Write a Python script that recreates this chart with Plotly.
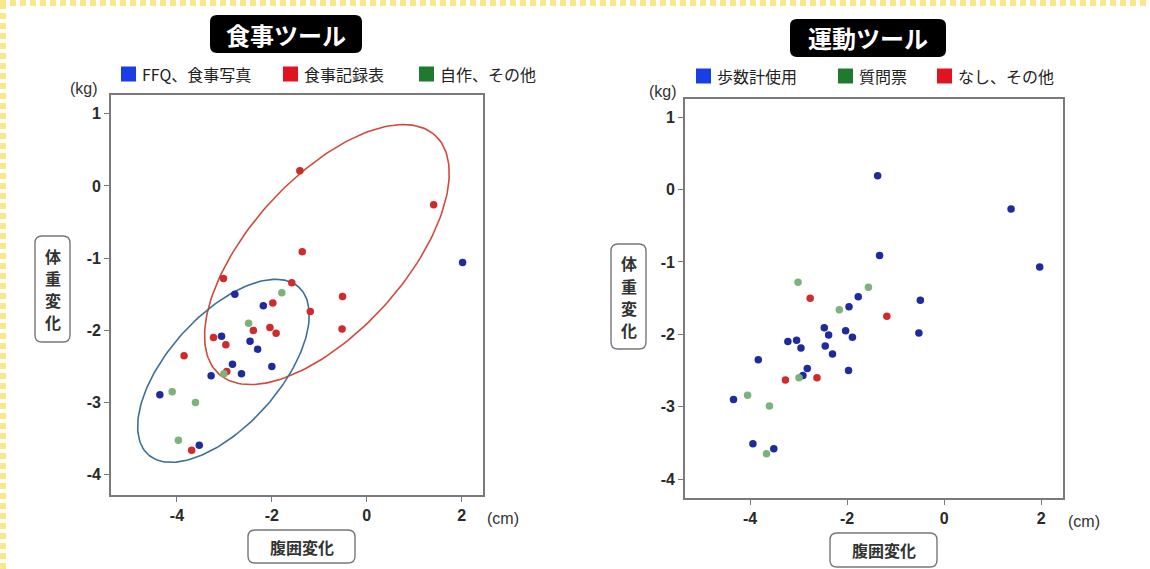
import numpy as np
import plotly.graph_objects as go

W, H = 1150, 569
FONT = "Noto Sans CJK JP"

# ---------------- data ----------------
# Left chart: 食事ツール
food_ffq_x = [2.02, -2.78, -2.18, -3.06, -2.46, -2.30, -2.83, -2.64, -3.28, -2.00, -4.36, -3.53]
food_ffq_y = [-1.06, -1.50, -1.66, -2.08, -2.15, -2.26, -2.47, -2.60, -2.63, -2.50, -2.89, -3.59]
food_rec_x = [-1.41, 1.41, -1.36, -3.02, -1.58, -0.51, -1.19, -0.52, -1.98, -2.39, -2.04, -1.91, -3.23, -2.97, -3.85, -2.95, -3.69]
food_rec_y = [0.21, -0.26, -0.91, -1.28, -1.34, -1.53, -1.74, -1.98, -1.62, -2.00, -1.96, -2.04, -2.10, -2.20, -2.35, -2.57, -3.66]
food_own_x = [-1.79, -2.49, -4.10, -3.61, -3.97, -3.01]
food_own_y = [-1.48, -1.90, -2.85, -3.00, -3.52, -2.60]

# Right chart: 運動ツール
ex_ped_x = [-1.37, 1.38, -1.33, 1.97, -0.49, -0.52, -1.77, -1.96, -2.47, -2.38, -2.03, -1.89, -2.45, -2.30, -3.22, -3.04, -2.95, -3.83, -2.82, -2.91, -1.97, -4.34, -3.94, -3.51]
ex_ped_y = [0.19, -0.27, -0.91, -1.07, -1.53, -1.98, -1.48, -1.62, -1.91, -2.01, -1.95, -2.04, -2.16, -2.27, -2.10, -2.08, -2.19, -2.35, -2.47, -2.57, -2.50, -2.90, -3.51, -3.58]
ex_q_x = [-3.01, -1.56, -2.16, -2.99, -4.05, -3.60, -3.66]
ex_q_y = [-1.28, -1.35, -1.66, -2.60, -2.84, -2.99, -3.65]
ex_none_x = [-2.76, -1.18, -3.27, -2.62]
ex_none_y = [-1.50, -1.75, -2.63, -2.60]

# group ellipses (center, major-axis vector, minor-axis vector) in data units
ell_red = dict(c=(-0.84, -0.95), u=(2.28, 1.652), v=(1.203, -0.716))
ell_blue = dict(c=(-3.02, -2.56), u=(1.587, 1.159), v=(0.867, -0.513))

x_ticks = [-4, -2, 0, 2]
x_ticktext = ["-4", "-2", "0", "2"]
y_ticks = [-4, -3, -2, -1, 0, 1]
y_ticktext = ["-4", "-3", "-2", "-1", "0", "1"]

titles = ["食事ツール", "運動ツール"]
legend_left = ["FFQ、食事写真", "食事記録表", "自作、その他"]
legend_right = ["歩数計使用", "質問票", "なし、その他"]
xlabel = "腹囲変化"
ylabel = "体重変化"

# ---------------- styles ----------------
C_BLUE = "#1f2a9e"
C_RED = "#d02a2a"
C_GREEN = "#7cb37c"
L_BLUE = "#1a3ee6"
L_RED = "#e0141e"
L_GREEN = "#1e7a2e"


def px(x):
    return x / W


def py(y):
    return 1 - y / H


def rrect(x0, y0, x1, y1, r):
    # rounded rectangle in pixel coords -> paper path
    rx, ry = r / W, r / H
    X0, X1 = px(x0), px(x1)
    Y0, Y1 = py(y1), py(y0)  # bottom, top
    return (f"M {X0+rx},{Y0} L {X1-rx},{Y0} Q {X1},{Y0} {X1},{Y0+ry} "
            f"L {X1},{Y1-ry} Q {X1},{Y1} {X1-rx},{Y1} L {X0+rx},{Y1} "
            f"Q {X0},{Y1} {X0},{Y1-ry} L {X0},{Y0+ry} Q {X0},{Y0} {X0+rx},{Y0} Z")


fig = go.Figure()


def pts(x, y, color, xa, ya):
    fig.add_trace(go.Scatter(x=x, y=y, mode="markers", xaxis=xa, yaxis=ya,
                             marker=dict(size=7.5, color=color), showlegend=False,
                             hoverinfo="skip"))


def ellipse(e, color):
    t = np.linspace(0, 2 * np.pi, 181)
    cx, cy = e["c"]
    ux, uy = e["u"]
    vx, vy = e["v"]
    ex = cx + ux * np.cos(t) + vx * np.sin(t)
    ey = cy + uy * np.cos(t) + vy * np.sin(t)
    fig.add_trace(go.Scatter(x=ex, y=ey, mode="lines", xaxis="x", yaxis="y",
                             line=dict(color=color, width=1.6), showlegend=False,
                             hoverinfo="skip"))


ellipse(ell_red, "#cf4a3c")
ellipse(ell_blue, "#3f6f98")
pts(food_ffq_x, food_ffq_y, C_BLUE, "x", "y")
pts(food_rec_x, food_rec_y, C_RED, "x", "y")
pts(food_own_x, food_own_y, C_GREEN, "x", "y")

pts(ex_ped_x, ex_ped_y, C_BLUE, "x2", "y2")
pts(ex_q_x, ex_q_y, C_GREEN, "x2", "y2")
pts(ex_none_x, ex_none_y, C_RED, "x2", "y2")

ax_common = dict(showgrid=False, zeroline=False, showline=True, mirror=True,
                 linecolor="#7a7a7a", linewidth=1.6, ticks="outside", ticklen=5,
                 tickcolor="#7a7a7a", tickwidth=1.3,
                 tickfont=dict(family="Liberation Sans", size=16, color="#2a2a2a",
                               weight="bold"))

fig.update_layout(
    width=W, height=H, margin=dict(l=0, r=0, t=0, b=0),
    paper_bgcolor="white", plot_bgcolor="white", showlegend=False,
    xaxis=dict(domain=[px(111), px(483)], range=[-5.39, 2.45], tickvals=x_ticks,
               ticktext=x_ticktext, anchor="y", **ax_common),
    yaxis=dict(domain=[py(495), py(95)], range=[-4.28, 1.26], tickvals=y_ticks,
               ticktext=y_ticktext, anchor="x", **ax_common),
    xaxis2=dict(domain=[px(685), px(1063)], range=[-5.34, 2.45], tickvals=x_ticks,
                ticktext=x_ticktext, anchor="y2", **ax_common),
    yaxis2=dict(domain=[py(498), py(99)], range=[-4.26, 1.25], tickvals=y_ticks,
                ticktext=y_ticktext, anchor="x2", **ax_common),
)

shapes = []
ann = []


def text(x, y, t, size=16, color="#222222", family=FONT, xanchor="center"):
    ann.append(dict(x=px(x), y=py(y), xref="paper", yref="paper", text=t,
                    showarrow=False, xanchor=xanchor, yanchor="middle",
                    font=dict(family=family, size=size, color=color)))


# yellow dashed page frame
shapes.append(dict(type="line", xref="paper", yref="paper", x0=0, x1=1, y0=py(3), y1=py(3),
                   line=dict(color="#f8e88a", width=6, dash="6px,4px")))
shapes.append(dict(type="line", xref="paper", yref="paper", x0=px(3), x1=px(3), y0=0, y1=1,
                   line=dict(color="#f8e88a", width=6, dash="6px,4px")))

# titles
for (x0, y0, x1, y1), txt in zip([(210, 15, 362, 53), (790, 19, 946, 57)], titles):
    shapes.append(dict(type="path", xref="paper", yref="paper", path=rrect(x0, y0, x1, y1, 7),
                       fillcolor="black", line=dict(width=0)))
    text((x0 + x1) / 2, (y0 + y1) / 2, f"<b>{txt}</b>", size=24, color="white")


# legends
def legend(items, sq_x, colors, ycen):
    for lab, sx, col in zip(items, sq_x, colors):
        shapes.append(dict(type="rect", xref="paper", yref="paper",
                           x0=px(sx), x1=px(sx + 15), y0=py(ycen + 7.5), y1=py(ycen - 7.5),
                           fillcolor=col, line=dict(width=0)))
        text(sx + 19, ycen, lab, size=16, xanchor="left")


legend(legend_left, [121, 283, 419], [L_BLUE, L_RED, L_GREEN], 74)
legend(legend_right, [696, 838, 937], [L_BLUE, L_GREEN, L_RED], 76)

# units
for (x, y, t) in [(84, 88, "(kg)"), (663, 91, "(kg)"), (503, 518, "(cm)"), (1084, 521, "(cm)")]:
    text(x, y, t, size=16, color="#333333", family="Liberation Sans")

# axis label boxes
for (x0, y0, x1, y1) in [(248, 530, 355, 563), (830, 533, 937, 567)]:
    shapes.append(dict(type="path", xref="paper", yref="paper", path=rrect(x0, y0, x1, y1, 7),
                       fillcolor="white", line=dict(color="#777777", width=1.4)))
    text((x0 + x1) / 2, (y0 + y1) / 2, f"<b>{xlabel}</b>", size=16, color="#333333")

for (x0, y0, x1, y1) in [(35, 236, 70, 342), (611, 244, 646, 349)]:
    shapes.append(dict(type="path", xref="paper", yref="paper", path=rrect(x0, y0, x1, y1, 7),
                       fillcolor="white", line=dict(color="#777777", width=1.4)))
    cy = (y0 + y1) / 2
    for i, ch in enumerate(ylabel):
        text((x0 + x1) / 2, cy + (i - 1.5) * 22, f"<b>{ch}</b>", size=16, color="#333333")

fig.update_layout(shapes=shapes, annotations=ann)
fig.write_html("out.html", post_script="document.body.style.margin='0px';",
               config={"displayModeBar": False})
